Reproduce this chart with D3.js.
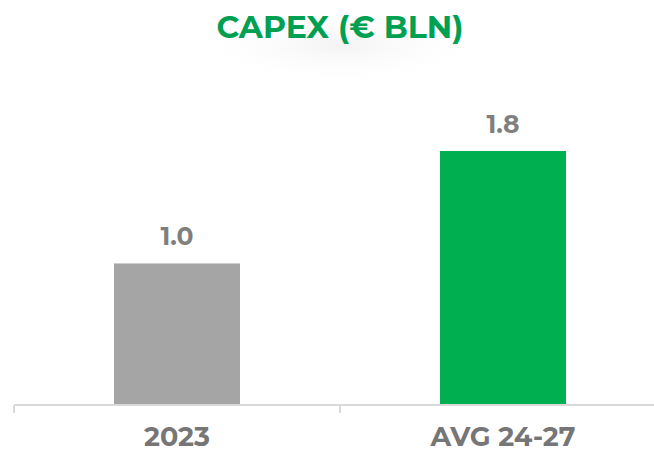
<!DOCTYPE html>
<html><head><meta charset="utf-8">
<script src="https://cdn.jsdelivr.net/npm/d3@7"></script>
<style>body{margin:0;background:#fff}svg{display:block}</style>
</head><body>
<script>
const categories = ["2023", "AVG 24-27"];
const values = [1.0, 1.8];
const valueLabels = ["1.0", "1.8"];
const barColors = ["#a5a5a5", "#00b050"];
const title = "CAPEX (€ BLN)";

const W = 654, H = 452;
const svg = d3.select("body").append("svg").attr("width", W).attr("height", H);

const defs = svg.append("defs");
const rg = defs.append("radialGradient").attr("id", "glow");
rg.append("stop").attr("offset", "0%").attr("stop-color", "#f3f3f3");
rg.append("stop").attr("offset", "100%").attr("stop-color", "#ffffff").attr("stop-opacity", 0);
svg.append("ellipse").attr("cx", 340).attr("cy", 45).attr("rx", 150).attr("ry", 40).attr("fill", "url(#glow)");

const font = "Montserrat, 'Open Sans', sans-serif";

svg.append("text").attr("x", 340).attr("y", 38).attr("text-anchor", "middle")
  .attr("font-family", font).attr("font-weight", 700).attr("font-size", 31.5)
  .attr("fill", "#00a052").text(title);

const x = d3.scaleBand().domain(categories).range([14, 666]).paddingInner(0.6135).paddingOuter(0.30675);
const y = d3.scaleLinear().domain([0, 1.8]).range([404, 151]);

svg.selectAll("rect.bar").data(values).join("rect").attr("class", "bar")
  .attr("x", (d, i) => x(categories[i])).attr("width", x.bandwidth())
  .attr("y", d => y(d)).attr("height", d => y(0) - y(d))
  .attr("fill", (d, i) => barColors[i]);

svg.selectAll("text.val").data(values).join("text").attr("class", "val")
  .attr("x", (d, i) => x(categories[i]) + x.bandwidth() / 2)
  .attr("y", d => y(d) - 18).attr("text-anchor", "middle")
  .attr("font-family", font).attr("font-weight", 700).attr("font-size", 25)
  .attr("fill", "#7f7f7f").text((d, i) => valueLabels[i]);

// axis
const step = x.step();
const ax = svg.append("g");
ax.append("line").attr("x1", 14).attr("x2", W).attr("y1", 405).attr("y2", 405)
  .attr("stroke", "#d9d9d9").attr("stroke-width", 2);
d3.range(categories.length + 1).forEach(i => {
  const tx = x.range()[0] + i * step;
  ax.append("line").attr("x1", tx).attr("x2", tx).attr("y1", 405).attr("y2", 413)
    .attr("stroke", "#d9d9d9").attr("stroke-width", 2);
});
svg.selectAll("text.cat").data(categories).join("text").attr("class", "cat")
  .attr("x", d => x(d) + x.bandwidth() / 2).attr("y", 446).attr("text-anchor", "middle")
  .attr("font-family", font).attr("font-weight", 700).attr("font-size", 27)
  .attr("fill", "#767676").text(d => d);
</script>
</body></html>
